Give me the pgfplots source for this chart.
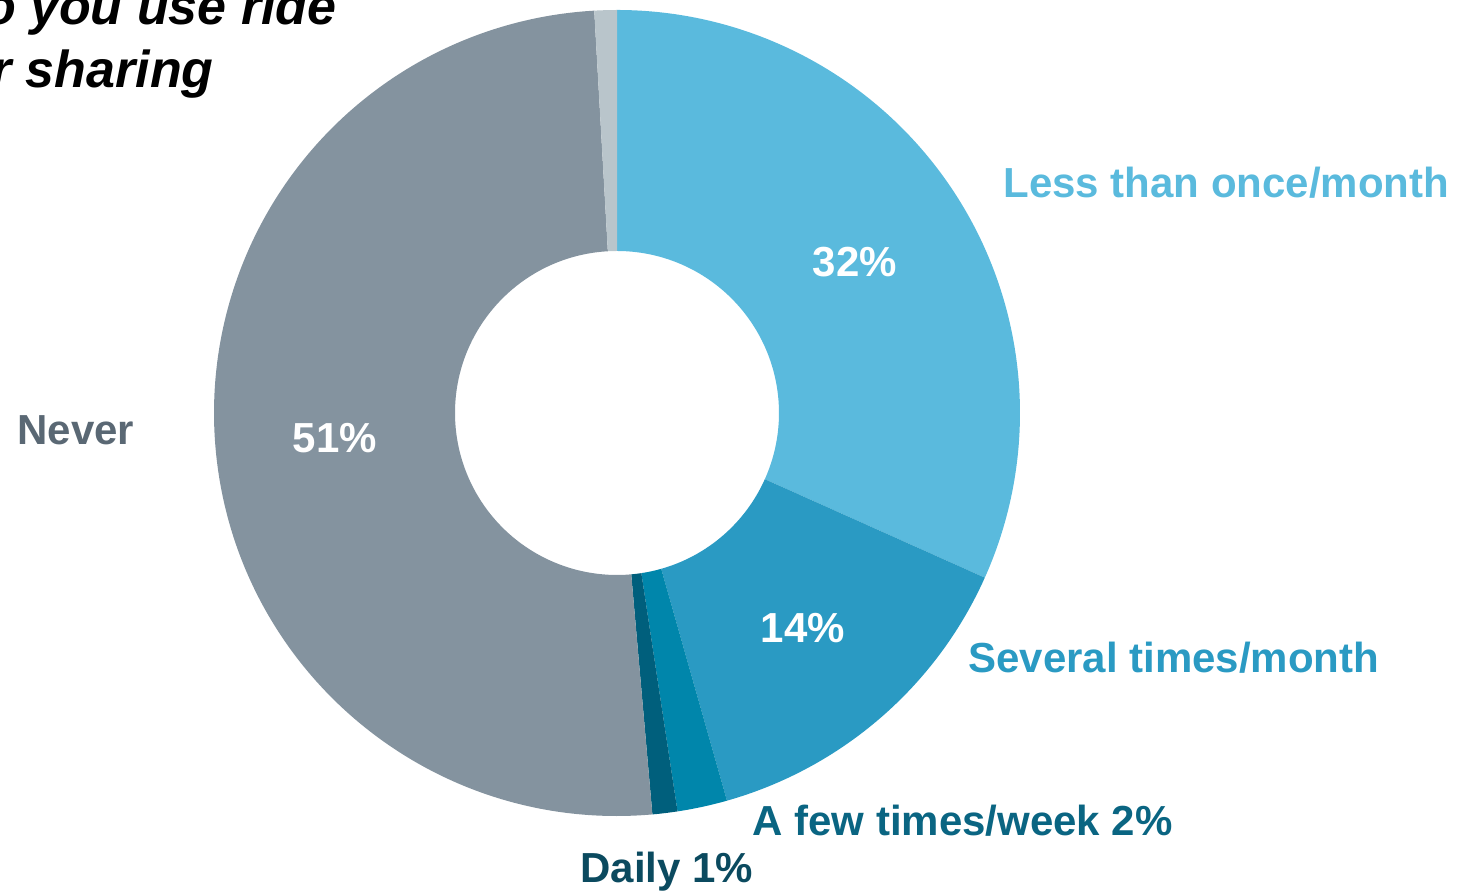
\documentclass[border=0pt]{standalone}
\usepackage{pgfplots}
\pgfplotsset{compat=1.18}
\usepackage{fontspec}
\setmainfont{Liberation Sans}
\definecolor{cLess}{HTML}{5ABADD}
\definecolor{cSev}{HTML}{2A9AC3}
\definecolor{cFew}{HTML}{0086AB}
\definecolor{cDaily}{HTML}{005F7C}
\definecolor{cNever}{HTML}{84939F}
\definecolor{cOther}{HTML}{B9C5CB}
\definecolor{tFew}{HTML}{0A6582}
\definecolor{tDaily}{HTML}{0B4A5F}
\definecolor{tNever}{HTML}{5A6874}
% shares (percent), clockwise from 12 o'clock
\def\vLess{31.7}\def\vSev{13.9}\def\vFew{2.0}\def\vDaily{1.0}\def\vNever{50.5}\def\vOther{0.9}
\def\cx{617}\def\cy{480}\def\Ro{403}\def\Ri{162}
\pgfmathsetmacro\aA{90}
\pgfmathsetmacro\aB{\aA-3.6*\vLess}
\pgfmathsetmacro\aC{\aB-3.6*\vSev}
\pgfmathsetmacro\aD{\aC-3.6*\vFew}
\pgfmathsetmacro\aE{\aD-3.6*\vDaily}
\pgfmathsetmacro\aF{\aE-3.6*\vNever}
\pgfmathsetmacro\aG{\aF-3.6*\vOther}
\newcommand\donutwedge[3]{%
  \fill[#3] (axis cs:{\cx+\Ro*cos(#1)},{\cy+\Ro*sin(#1)})
     arc[start angle=#1, end angle=#2, radius=201.5pt]
     -- (axis cs:{\cx+\Ri*cos(#2)},{\cy+\Ri*sin(#2)})
     arc[start angle=#2, end angle=#1, radius=81pt] -- cycle;}
\tikzset{lab/.style={font=\fontsize{21}{25}\selectfont\bfseries, inner sep=0pt},
  ttl/.style={font=\fontsize{26}{30}\selectfont\bfseries\itshape, inner sep=0pt, anchor=base east}}
\begin{document}
\begin{tikzpicture}
\begin{axis}[x=0.5pt, y=0.5pt, xmin=0, xmax=1458, ymin=0, ymax=893,
  axis line style={draw=none}, ticks=none, clip=true]
\donutwedge{\aA}{\aB}{cLess}
\donutwedge{\aB}{\aC}{cSev}
\donutwedge{\aC}{\aD}{cFew}
\donutwedge{\aD}{\aE}{cDaily}
\donutwedge{\aE}{\aF}{cNever}
\donutwedge{\aF}{\aG}{cOther}
\node[lab, anchor=base west, text=cLess] at (axis cs:1003,695) {Less than once/month};
\node[lab, text=white] at (axis cs:855,631) {32\%};
\node[lab, anchor=base west, text=cSev] at (axis cs:968,220) {Several times/month};
\node[lab, text=white] at (axis cs:803,265) {14\%};
\node[lab, anchor=base west, text=tFew] at (axis cs:752,57) {A few times/week 2\%};
\node[lab, anchor=base west, text=tDaily] at (axis cs:580,10) {Daily 1\%};
\node[lab, anchor=base west, text=tNever] at (axis cs:17,448) {Never};
\node[lab, anchor=base, text=white] at (axis cs:335,440) {51\%};
\node[ttl] at (axis cs:337,868) {How often do you use ride};
\node[ttl] at (axis cs:214,805) {or car sharing};
\end{axis}
\end{tikzpicture}
\end{document}
